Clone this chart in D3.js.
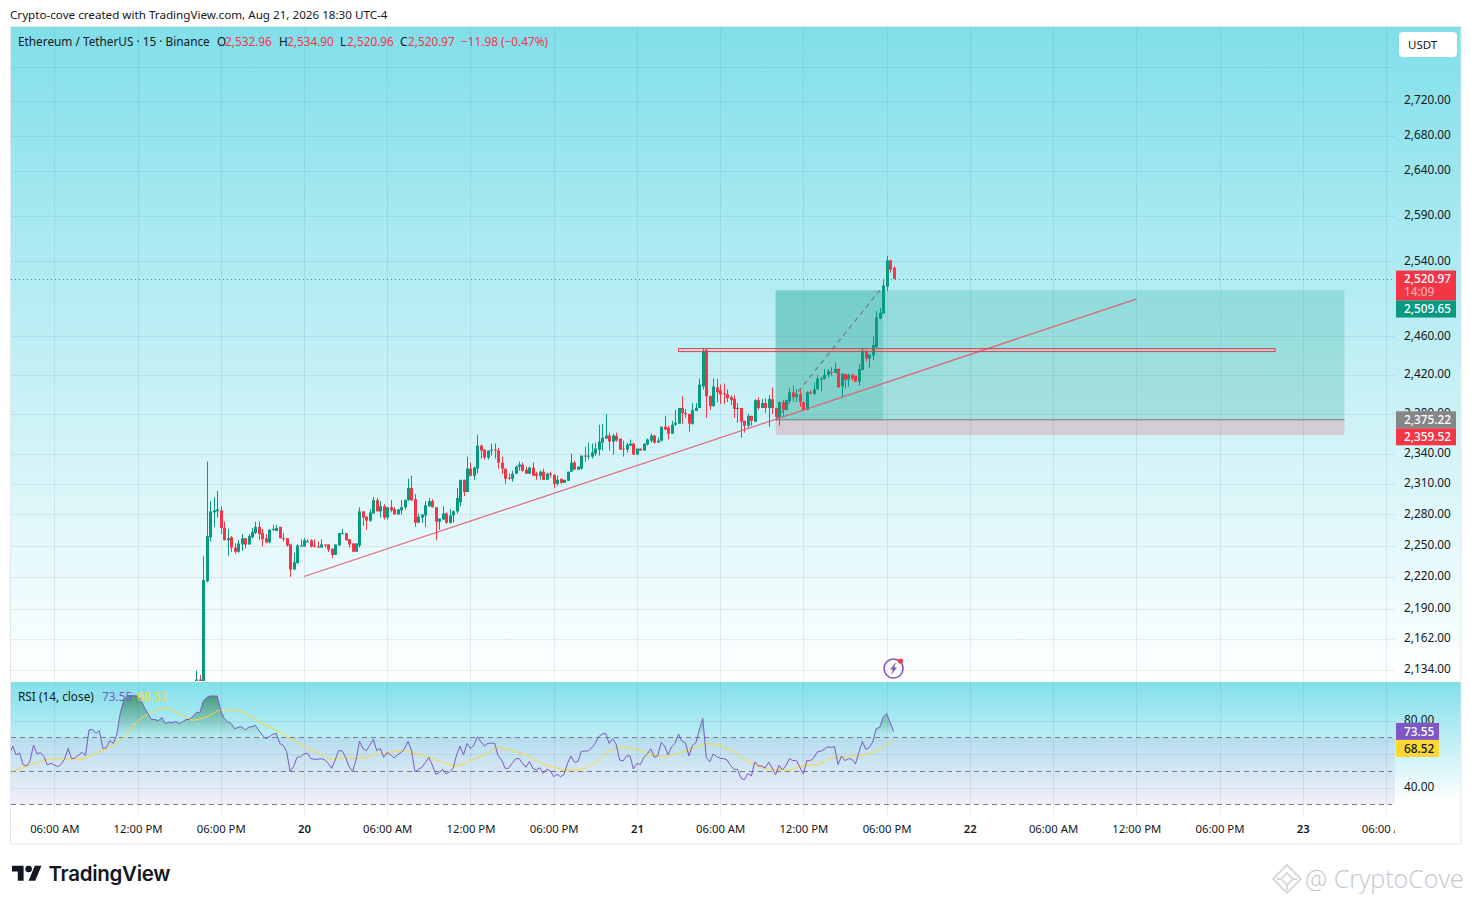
<!DOCTYPE html>
<html>
<head>
<meta charset="utf-8">
<title>ETHUSDT 15</title>
<script src="https://cdn.jsdelivr.net/npm/d3@7"></script>
<style>
  html, body { margin: 0; padding: 0; background: #fff; }
  svg { display: block; }
  text { font-family: "Noto Sans", sans-serif; fill: #131722; }
</style>
</head>
<body>
<div id="chart"></div>
<script>
// candles are 15 minute bars, index 0 is midnight Aug 20
const firstCandle = -31;
const opens = [2123,2125,2100,2216,2258,2282,2283,2284,2267,2255,2258,2248,2244,2251,2257,2251,2258,2262,2268,2262,2257,2253,2265,2264,2268,2257,2257,2251,2227,2233,2249,
  2249,2253,2255,2250,2249,2248,2251,2251,2247,2241,2250,2261,2262,2256,2252,2244,2250,2283,2278,2274,2281,2294,2283,2288,2277,2287,2285,2280,2284,2287,2294,2306,2295,2272,2277,2279,2288,2293,2287,2273,2275,2281,
  2272,2279,2283,2292,2314,2302,2325,2318,2325,2348,2344,2336,2343,2344,2343,2331,2325,2316,2315,2320,2327,2329,2324,2320,2326,2320,2318,2322,2314,2320,2319,2310,2315,2311,2313,2322,2331,2324,2325,2338,2337,2337,2340,2344,2351,2355,2358,2352,2358,2355,2345,2344,2348,2350,2339,2345,2343,2349,2353,2358,2351,2353,2367,2366,2360,2369,2370,2386,2381,2380,2370,2383,2386,2408,2446,2398,2388,2407,2404,2401,2400,2397,2395,2386,2386,2373,2368,2378,2372,2394,2386,2391,2386,2395,2386,2377,2392,2384,2393,2402,2397,2400,2392,2384,2402,2400,2405,2415,2416,2420,2423,2422,2426,2408,2421,2415,2420,2419,2413,2425,2445,2437,2440,2449,2479,2484,2513,2541,2532.96];
const highs = [2133,2129,2240,2332,2293,2297,2303,2288,2273,2266,2259,2252,2255,2261,2257,2261,2267,2273,2273,2266,2261,2266,2270,2270,2268,2262,2257,2251,2243,2251,2256,
  2257,2256,2256,2256,2254,2256,2251,2251,2247,2251,2262,2266,2262,2256,2252,2252,2287,2283,2278,2285,2297,2296,2293,2290,2287,2294,2287,2285,2294,2295,2315,2318,2300,2281,2280,2293,2296,2295,2287,2276,2288,2282,
  2285,2284,2306,2314,2314,2337,2331,2327,2359,2349,2344,2343,2350,2350,2346,2337,2325,2320,2323,2328,2332,2331,2327,2327,2331,2322,2323,2325,2321,2322,2319,2318,2315,2314,2322,2340,2333,2327,2338,2347,2351,2350,2351,2369,2370,2380,2361,2360,2361,2355,2353,2351,2354,2351,2345,2345,2350,2355,2360,2359,2356,2367,2378,2368,2373,2384,2385,2398,2385,2380,2391,2391,2416,2448,2446,2399,2416,2416,2410,2411,2405,2399,2399,2391,2386,2373,2380,2378,2395,2397,2395,2396,2399,2407,2386,2392,2394,2394,2406,2409,2405,2405,2392,2403,2404,2412,2420,2418,2426,2426,2428,2433,2427,2422,2421,2421,2421,2419,2431,2448,2445,2441,2460,2487,2490,2521,2546,2542,2534.9];
const lows = [2123,2123,2100,2215,2254,2268,2277,2261,2255,2240,2244,2242,2243,2245,2247,2251,2257,2261,2255,2249,2252,2252,2264,2264,2257,2254,2249,2220,2227,2233,2249,
  2249,2253,2248,2248,2248,2248,2248,2244,2238,2241,2250,2261,2255,2248,2244,2244,2248,2269,2265,2273,2281,2283,2277,2275,2275,2282,2280,2280,2280,2285,2293,2293,2268,2272,2272,2268,2288,2287,2255,2265,2275,2271,
  2271,2272,2281,2288,2298,2302,2317,2314,2320,2335,2334,2334,2338,2335,2325,2320,2310,2314,2312,2320,2323,2322,2320,2320,2318,2314,2314,2314,2314,2316,2306,2308,2310,2311,2313,2322,2324,2324,2324,2332,2334,2335,2338,2338,2343,2355,2343,2339,2352,2344,2337,2341,2348,2339,2339,2343,2343,2348,2351,2350,2351,2352,2364,2354,2360,2368,2370,2370,2376,2362,2369,2383,2386,2405,2376,2384,2387,2392,2390,2390,2392,2389,2376,2371,2356,2361,2366,2368,2372,2384,2386,2381,2367,2380,2373,2368,2377,2384,2392,2392,2392,2387,2384,2384,2400,2400,2405,2403,2415,2417,2419,2422,2407,2397,2406,2408,2414,2413,2409,2425,2434,2427,2435,2447,2478,2484,2508,2528,2520.96];
const closes = [2125,2123,2217,2259,2283,2284,2285,2267,2255,2257,2248,2244,2252,2257,2251,2259,2263,2268,2261,2256,2253,2265,2266,2267,2257,2256,2250,2227,2234,2250,2250,
  2255,2254,2249,2249,2248,2251,2250,2246,2241,2251,2262,2262,2255,2251,2244,2252,2283,2277,2274,2282,2294,2283,2288,2277,2287,2284,2280,2285,2287,2294,2306,2294,2272,2278,2280,2289,2293,2287,2273,2276,2281,2272,
  2279,2283,2296,2314,2302,2325,2318,2326,2348,2343,2336,2343,2344,2343,2331,2325,2315,2315,2320,2327,2329,2323,2320,2326,2318,2318,2322,2314,2320,2319,2310,2314,2311,2314,2322,2331,2324,2327,2338,2337,2338,2341,2345,2352,2356,2358,2352,2358,2353,2344,2344,2349,2350,2339,2345,2343,2350,2354,2358,2351,2353,2367,2364,2360,2369,2371,2386,2381,2380,2370,2384,2386,2410,2445,2398,2388,2408,2402,2400,2400,2396,2394,2385,2385,2372,2368,2378,2373,2394,2386,2391,2386,2395,2386,2377,2392,2384,2394,2402,2397,2400,2392,2384,2402,2401,2405,2416,2416,2420,2424,2422,2426,2407,2421,2415,2420,2416,2413,2426,2445,2437,2441,2451,2480,2485,2514,2541,2531,2520.97];

const firstRsi = -85;
const rsiValues = [59.5,64.8,59.5,60.7,53.7,52.9,55.9,65.4,60.1,60.9,58.5,53.5,54.5,53.5,52.5,53.9,57.1,63.4,57.3,57.7,59.3,61.1,58.9,74.4,74.8,72.4,74,63.4,63.8,68,66.4,71.4,84.3,91.9,94.7,94.9,94.9,94.7,92.3,87.9,84.3,80.7,80.7,79.9,81.9,78.3,79.1,78.7,79.5,78.3,79.3,80.7,80.7,82.7,84.9,84.9,91.9,93.9,94.7,94.7,94.7,85.9,81.3,79.3,78.3,75.2,76,76.4,74.4,76,76.4,77.2,74,71.4,69.2,70.4,71.8,72.4,66.4,65.2,61.5,49.5,52.5,58.1,58.5,
  60.1,60.5,57.3,56.9,56.9,57.3,56.5,54.5,51.5,56.5,62,62,58.1,52.5,49.5,56.5,67.6,63.4,62,65.4,68.8,62,63.4,58.1,60.9,59.5,57.7,59.5,60.9,63.4,67.6,62.4,49.5,50.9,52.1,54.9,58.1,53.5,47.9,48.9,50.9,48.1,49.5,51.5,59.5,64.8,59.5,66.4,63.4,65.2,70.4,67.4,64.8,66.4,66.6,66.4,58.9,56.5,51.5,51.5,54.5,57.1,57.5,54.5,52.1,55.5,51.5,50.5,51.9,48.5,50.9,50.1,46.5,47.9,46.5,47.9,54.5,58.9,55.1,55.5,61.7,61.8,62,63.8,66.4,70.4,72,72.4,66.4,69.2,66,56.5,55.9,58.9,58.9,51.1,54.5,53.7,58.1,60.1,63.2,58.1,58.9,67,64.8,59.5,64.4,66.4,72,67.6,66.8,58.9,65.2,66.8,74.4,81.3,58.1,55.3,60.1,58.5,57.5,57.3,56.5,53.3,50.9,50.9,45.7,44.6,48.5,46.9,55.3,52.9,52.9,51.7,55.3,51.7,47.7,53.3,50.5,53.3,57.3,56.1,56.1,52.1,48.1,56.1,56.1,57.7,61.3,61.7,62.8,64.4,64,64.4,53.7,58.9,56.1,57.3,56.9,54.1,60.9,67.6,62.8,64,67.2,75.2,76,81.9,84.3,79.1,73.55];
const rsiMaIndex = [-84,-80,-76,-72,-68,-64,-60,-56,-52,-48,-44,-40,-36,-32,-28,-24,-20,-16,-12,-8,-4,0,4,8,12,16,20,24,28,32,36,40,44,48,52,56,60,64,68,72,76,80,84,88,92,96,100,104,108,112,116,120,124,128,132,136,140,144,148,152,156,160,164,168,170];
const rsiMaValues = [49.7,52.7,55.5,57.5,56.9,57.1,60.5,64.2,70,79.5,84.9,87.5,84.3,80.3,82.3,86.3,86.3,83.7,78,74.2,69.4,64.4,60.9,56.9,57.9,57.3,59.7,60.7,62,60.5,58.1,55.3,52.9,56.1,59.5,63.8,62,59.5,54.9,52.1,50.5,50.9,54.9,62,64,62.8,59.7,58.5,60.5,63.4,66.2,64.8,61.3,55.5,52.1,50.7,50.5,53.1,53.7,57.5,58.5,59.3,60.9,65.4,68.52];

// axis ticks
const priceTicks = [2720,2680,2640,2590,2540,2460,2420,2380,2340,2310,2280,2250,2220,2190,2162,2134];
const priceGridExtra = [2760];
const rsiTicks = [80,60,40];
const rsiLevels = [70,50,30];
const timeTicks = ["2026-08-19T06:00Z","2026-08-19T12:00Z","2026-08-19T18:00Z","2026-08-20T00:00Z","2026-08-20T06:00Z","2026-08-20T12:00Z","2026-08-20T18:00Z","2026-08-21T00:00Z","2026-08-21T06:00Z","2026-08-21T12:00Z","2026-08-21T18:00Z","2026-08-22T00:00Z","2026-08-22T06:00Z","2026-08-22T12:00Z","2026-08-22T18:00Z","2026-08-23T00:00Z","2026-08-23T06:00Z"];
const timeLabels = ["06:00 AM","12:00 PM","06:00 PM","20","06:00 AM","12:00 PM","06:00 PM","21","06:00 AM","12:00 PM","06:00 PM","22","06:00 AM","12:00 PM","06:00 PM","23","06:00 AM"];

const lastPrice = 2520.97;
const target = 2508.9, entry = 2374, stop = 2358.5;
const positionIndex = [136, 167, 300];
const trendIndex = [0, 240], trendPrice = [2220.4, 2499.5];
const resistanceIndex = [108, 280], resistancePrice = [2447.2, 2444.1];

const green = "#089981", red = "#f23645", purple = "#7e57c2", yellow = "#fdd835";
const paneTop = "#81dfea";

const W = 1471, H = 904;
const left = 11, plotRight = 1395, outerRight = 1461;
const priceTop = 27, priceBottom = 681, rsiTop = 682, rsiBottom = 815, frameBottom = 844;

const base = Date.UTC(2026, 7, 20);
const timeOf = i => new Date(base + i * 15 * 60000);

const x = d3.scaleUtc()
  .domain([timeOf(-84.63), timeOf(314.46)])
  .range([left - 0.5, plotRight - 0.5]);
const y = d3.scaleLog()
  .domain([2123.6, 2807.2])
  .range([priceBottom, priceTop]);
const yRsi = d3.scaleLinear()
  .domain([23.6, 103.1])
  .range([rsiBottom, rsiTop]);

const svg = d3.select("#chart").append("svg")
  .attr("width", W)
  .attr("height", H);

const defs = svg.append("defs");

function paneGradient (id, y1, y2) {
  let g = defs.append("linearGradient")
    .attr("id", id)
    .attr("gradientUnits", "userSpaceOnUse")
    .attr("x1", 0).attr("x2", 0)
    .attr("y1", y1).attr("y2", y2);
  g.append("stop").attr("offset", 0).attr("stop-color", paneTop);
  g.append("stop").attr("offset", 1).attr("stop-color", "#ffffff");
}
paneGradient("priceBg", priceTop, priceBottom);
paneGradient("rsiBg", rsiTop, 802);

let obFill = defs.append("linearGradient")
  .attr("id", "obFill")
  .attr("gradientUnits", "userSpaceOnUse")
  .attr("x1", 0).attr("x2", 0)
  .attr("y1", yRsi(95)).attr("y2", yRsi(70));
obFill.append("stop").attr("offset", 0).attr("stop-color", "#3f8f6c").attr("stop-opacity", 0.85);
obFill.append("stop").attr("offset", 1).attr("stop-color", "#3f8f6c").attr("stop-opacity", 0);

defs.append("clipPath").attr("id", "priceClip").append("rect")
  .attr("x", left).attr("y", priceTop).attr("width", plotRight - left).attr("height", priceBottom - priceTop);
defs.append("clipPath").attr("id", "rsiClip").append("rect")
  .attr("x", left).attr("y", rsiTop).attr("width", plotRight - left).attr("height", rsiBottom - rsiTop);
defs.append("clipPath").attr("id", "obClip").append("rect")
  .attr("x", left).attr("y", rsiTop).attr("width", plotRight - left).attr("height", yRsi(70) - rsiTop);
defs.append("clipPath").attr("id", "timeClip").append("rect")
  .attr("x", left).attr("y", rsiBottom).attr("width", plotRight - left).attr("height", frameBottom - rsiBottom);

// header text
svg.append("text")
  .attr("x", 10).attr("y", 19)
  .style("font-size", "11.65px")
  .text("Crypto-cove created with TradingView.com, Aug 21, 2026 18:30 UTC-4");

// pane backgrounds and outer frame
svg.append("rect")
  .attr("x", 10.5).attr("y", priceTop)
  .attr("width", outerRight - 10.5).attr("height", priceBottom - priceTop)
  .attr("fill", "url(#priceBg)");
svg.append("rect")
  .attr("x", 10.5).attr("y", rsiTop)
  .attr("width", outerRight - 10.5).attr("height", rsiBottom - rsiTop)
  .attr("fill", "url(#rsiBg)");
svg.append("rect")
  .attr("x", 10.5).attr("y", priceTop - 0.5)
  .attr("width", outerRight - 10.5).attr("height", frameBottom - priceTop + 0.5)
  .attr("fill", "none")
  .attr("stroke", "#e3e6ec");

// grid lines
const gridColor = "rgba(50,90,115,0.10)";
const times = timeTicks.map(d => new Date(d));
svg.append("g").selectAll("line")
  .data(times)
  .enter().append("line")
    .attr("x1", d => Math.round(x(d)) + 0.5).attr("x2", d => Math.round(x(d)) + 0.5)
    .attr("y1", priceTop).attr("y2", rsiBottom)
    .attr("stroke", gridColor);
svg.append("g").selectAll("line")
  .data(priceTicks.concat(priceGridExtra))
  .enter().append("line")
    .attr("x1", left).attr("x2", plotRight)
    .attr("y1", d => Math.round(y(d)) + 0.5).attr("y2", d => Math.round(y(d)) + 0.5)
    .attr("stroke", gridColor);
svg.append("g").selectAll("line")
  .data(rsiTicks)
  .enter().append("line")
    .attr("x1", left).attr("x2", plotRight)
    .attr("y1", d => Math.round(yRsi(d)) + 0.5).attr("y2", d => Math.round(yRsi(d)) + 0.5)
    .attr("stroke", gridColor);

// long position boxes, these sit under the candles
const pane = svg.append("g").attr("clip-path", "url(#priceClip)");
pane.append("rect")
  .attr("x", x(timeOf(positionIndex[0])))
  .attr("y", y(target))
  .attr("width", x(timeOf(positionIndex[2])) - x(timeOf(positionIndex[0])))
  .attr("height", y(entry) - y(target))
  .attr("fill", green).attr("fill-opacity", 0.2);
pane.append("rect")
  .attr("x", x(timeOf(positionIndex[0])))
  .attr("y", y(target))
  .attr("width", x(timeOf(positionIndex[1])) - x(timeOf(positionIndex[0])))
  .attr("height", y(entry) - y(target))
  .attr("fill", green).attr("fill-opacity", 0.2);
pane.append("rect")
  .attr("x", x(timeOf(positionIndex[0])))
  .attr("y", y(entry))
  .attr("width", x(timeOf(positionIndex[2])) - x(timeOf(positionIndex[0])))
  .attr("height", y(stop) - y(entry))
  .attr("fill", red).attr("fill-opacity", 0.2);

// last price dotted line
pane.append("line")
  .attr("x1", left).attr("x2", plotRight)
  .attr("y1", y(lastPrice) + 0.5).attr("y2", y(lastPrice) + 0.5)
  .attr("stroke", red)
  .attr("stroke-dasharray", "1 3");

// candles
const candles = opens.map((o, k) => ({
  i: firstCandle + k, o: o, h: highs[k], l: lows[k], c: closes[k]
}));
const candle = pane.append("g").selectAll("g")
  .data(candles)
  .enter().append("g")
    .attr("transform", d => "translate(" + Math.round(x(timeOf(d.i))) + ",0)");
candle.append("rect")
  .attr("x", 0).attr("width", 1)
  .attr("y", d => y(d.h))
  .attr("height", d => y(d.l) - y(d.h))
  .attr("fill", d => d.c >= d.o ? green : red);
candle.append("rect")
  .attr("x", -1).attr("width", 3)
  .attr("y", d => y(Math.max(d.o, d.c)))
  .attr("height", d => Math.max(1, Math.abs(y(d.o) - y(d.c))))
  .attr("fill", d => d.c >= d.o ? green : red);

// entry line and the dashed line from entry to target
pane.append("line")
  .attr("x1", x(timeOf(positionIndex[0]))).attr("x2", x(timeOf(positionIndex[2])))
  .attr("y1", y(entry)).attr("y2", y(entry))
  .attr("stroke", "#787b86");
pane.append("line")
  .attr("x1", x(timeOf(positionIndex[0]))).attr("x2", x(timeOf(positionIndex[1] - 1)))
  .attr("y1", y(entry)).attr("y2", y(target))
  .attr("stroke", "#787b86")
  .attr("stroke-width", 1.2)
  .attr("stroke-dasharray", "5 4");

// trend line
pane.append("line")
  .attr("x1", x(timeOf(trendIndex[0]))).attr("x2", x(timeOf(trendIndex[1])))
  .attr("y1", y(trendPrice[0])).attr("y2", y(trendPrice[1]))
  .attr("stroke", "#e4576c")
  .attr("stroke-opacity", 0.9)
  .attr("stroke-width", 1.2);

// resistance rectangle
pane.append("rect")
  .attr("x", x(timeOf(resistanceIndex[0])))
  .attr("y", y(resistancePrice[0]))
  .attr("width", x(timeOf(resistanceIndex[1])) - x(timeOf(resistanceIndex[0])))
  .attr("height", y(resistancePrice[1]) - y(resistancePrice[0]))
  .attr("fill", "none")
  .attr("stroke", red);

// bolt icon sitting above the time of the last bar
const iconX = x(timeOf(170)), iconY = 668.5;
const icon = svg.append("g").attr("transform", "translate(" + iconX + "," + iconY + ")");
icon.append("circle").attr("r", 9.5).attr("fill", "none").attr("stroke", purple).attr("stroke-width", 1.6);
icon.append("path").attr("d", "M2.5,-6.5 L-3.5,1 L-0.5,1 L-2.5,6.5 L3.5,-1 L0.5,-1 Z").attr("fill", purple);
icon.append("circle").attr("cx", 7).attr("cy", -7.5).attr("r", 2.6).attr("fill", red);

// rsi pane
const rsiPane = svg.append("g").attr("clip-path", "url(#rsiClip)");
rsiPane.append("rect")
  .attr("x", left).attr("width", plotRight - left)
  .attr("y", yRsi(70)).attr("height", yRsi(30) - yRsi(70))
  .attr("fill", purple).attr("fill-opacity", 0.1);
rsiPane.append("g").selectAll("line")
  .data(rsiLevels)
  .enter().append("line")
    .attr("x1", left).attr("x2", plotRight - 3)
    .attr("y1", d => Math.round(yRsi(d)) + 0.5).attr("y2", d => Math.round(yRsi(d)) + 0.5)
    .attr("stroke", "#787b86")
    .attr("stroke-dasharray", "5 4");

const rsiData = rsiValues.map((v, k) => ({ i: firstRsi + k, v: v }));
rsiPane.append("path")
  .datum(rsiData)
  .attr("clip-path", "url(#obClip)")
  .attr("fill", "url(#obFill)")
  .attr("d", d3.area()
    .x(d => x(timeOf(d.i)))
    .y0(yRsi(70))
    .y1(d => yRsi(d.v)));
rsiPane.append("path")
  .datum(rsiMaValues.map((v, k) => ({ i: rsiMaIndex[k], v: v })))
  .attr("fill", "none")
  .attr("stroke", yellow)
  .attr("d", d3.line()
    .curve(d3.curveMonotoneX)
    .x(d => x(timeOf(d.i)))
    .y(d => yRsi(d.v)));
rsiPane.append("path")
  .datum(rsiData)
  .attr("fill", "none")
  .attr("stroke", purple)
  .attr("d", d3.line()
    .x(d => x(timeOf(d.i)))
    .y(d => yRsi(d.v)));

// axes
function cleanAxis (g) {
  g.select(".domain").remove();
  g.selectAll(".tick line").remove();
  g.selectAll("text").style("font-family", null).style("font-size", "11.8px").attr("dy", ".24em");
}
svg.append("g")
  .attr("transform", "translate(" + plotRight + ",0)")
  .call(d3.axisRight(y).tickValues(priceTicks).tickFormat(d3.format(",.2f")).tickSize(0).tickPadding(9))
  .call(cleanAxis);
svg.append("g")
  .attr("transform", "translate(" + plotRight + ",0)")
  .call(d3.axisRight(yRsi).tickValues(rsiTicks).tickFormat(d3.format(".2f")).tickSize(0).tickPadding(9))
  .call(cleanAxis);
svg.append("g")
  .attr("clip-path", "url(#timeClip)")
  .append("g")
  .attr("transform", "translate(0," + rsiBottom + ")")
  .call(d3.axisBottom(x).tickValues(times).tickFormat((d, k) => timeLabels[k]).tickSize(0).tickPadding(10))
  .call(g => {
    g.select(".domain").remove();
    g.selectAll(".tick line").remove();
  })
  .selectAll("text")
    .style("font-family", null)
    .style("font-size", "11.3px")
    .style("font-weight", (d, k) => timeLabels[k].length < 3 ? 600 : 400);

// value labels on the price scale, pushed down when they would overlap
function stackedLabels (items, scale) {
  let prevBottom = -Infinity;
  items.forEach(d => {
    let top = Math.max(scale(d.value) - 8.5, prevBottom);
    svg.append("rect")
      .attr("x", 1396).attr("y", top)
      .attr("width", d.w).attr("height", 17 + (d.extra ? 13 : 0))
      .attr("fill", d.color);
    svg.append("text")
      .attr("x", 1404).attr("y", top + 12.7)
      .style("font-size", "11.8px")
      .style("font-weight", 500)
      .style("fill", d.textColor || "#fff")
      .text(d.text);
    if (d.extra) {
      svg.append("text")
        .attr("x", 1404).attr("y", top + 25.7)
        .style("font-size", "11.8px")
        .style("fill", "#ffb9bf")
        .text(d.extra);
    }
    prevBottom = top + 17 + (d.extra ? 13 : 0);
  });
}
stackedLabels([
  { value: lastPrice, text: "2,520.97", extra: "14:09", color: red, w: 60 },
  { value: target, text: "2,509.65", color: green, w: 60 },
  { value: entry, text: "2,375.22", color: "#868686", w: 60 },
  { value: stop, text: "2,359.52", color: red, w: 60 }
], y);
stackedLabels([
  { value: 73.55, text: "73.55", color: purple, w: 43 },
  { value: 68.52, text: "68.52", color: yellow, w: 43, textColor: "#131722" }
], yRsi);

// USDT button
svg.append("rect")
  .attr("x", 1399).attr("y", 32)
  .attr("width", 58).attr("height", 25).attr("rx", 4)
  .attr("fill", "#fff");
svg.append("text")
  .attr("x", 1408).attr("y", 49)
  .style("font-size", "11.5px")
  .text("USDT");

// legend lines
const legend = svg.append("text").attr("y", 46).style("font-size", "11.8px");
[
  [18, "Ethereum / TetherUS · 15 · Binance", "#131722"],
  [217, "O", "#131722"], [225, "2,532.96", red],
  [279, "H", "#131722"], [287, "2,534.90", red],
  [340, "L", "#131722"], [347, "2,520.96", red],
  [400, "C", "#131722"], [408, "2,520.97", red],
  [461, "−11.98 (−0.47%)", red]
].forEach(d => {
  legend.append("tspan").attr("x", d[0]).style("fill", d[2]).text(d[1]);
});
const rsiLegend = svg.append("text").attr("y", 701).style("font-size", "11.8px");
[
  [18, "RSI (14, close)", "#131722"],
  [102, "73.55", purple],
  [137, "68.52", yellow]
].forEach(d => {
  rsiLegend.append("tspan").attr("x", d[0]).style("fill", d[2]).text(d[1]);
});

// TradingView logo
const logo = svg.append("g").attr("transform", "translate(12,862.4) scale(0.83)");
logo.append("path").attr("d", "M14 22H7V11H0V4h14v18zM28 22h-8l7.5-18h8L28 22z").attr("fill", "#131722");
logo.append("circle").attr("cx", 20).attr("cy", 8).attr("r", 4).attr("fill", "#131722");
svg.append("text")
  .attr("x", 48.5).attr("y", 881)
  .style("font-family", "Inter")
  .style("font-size", "20.5px")
  .style("font-weight", 600)
  .style("letter-spacing", "-0.3px")
  .text("TradingView");

// watermark
const mark = svg.append("g")
  .attr("transform", "translate(1287,879)")
  .attr("fill", "none")
  .attr("stroke", "#d3d6db")
  .attr("stroke-width", 1.8);
mark.append("path").attr("d", "M0,-14 L14,0 L0,14 L-14,0 Z");
mark.append("path").attr("d", "M0,-6 L6,0 L0,6 L-6,0 Z");
mark.append("path").attr("d", "M-10,0 L-6,0 M6,0 L10,0 M0,6 L0,11");
svg.append("text")
  .attr("x", 1305).attr("y", 888)
  .style("font-family", "Open Sans")
  .style("font-size", "25px")
  .style("font-weight", 300)
  .style("fill", "#c4c7cc")
  .text("@ CryptoCove");
</script>
</body>
</html>
